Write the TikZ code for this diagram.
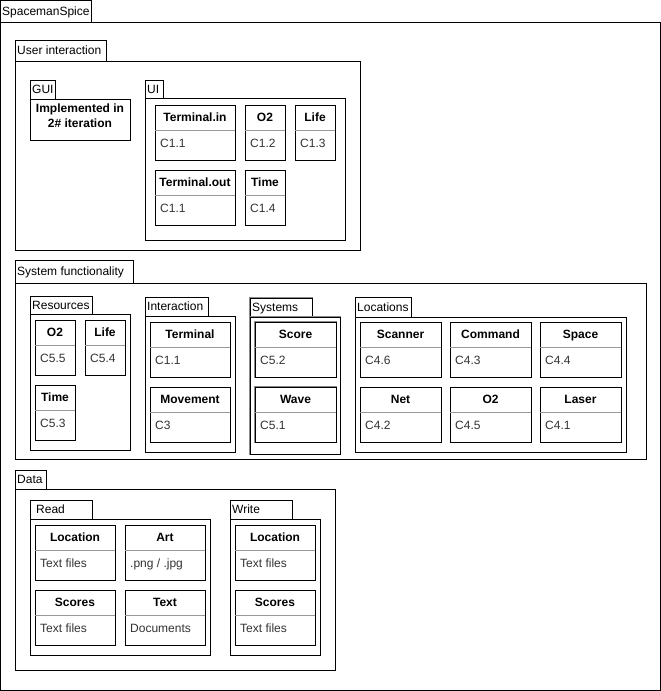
\documentclass[tikz,border=0pt]{standalone}
\usepackage{fontspec}
\setmainfont{Liberation Sans}
\definecolor{divc}{HTML}{999999}
\definecolor{itemc}{HTML}{333333}
\definecolor{shadc}{HTML}{8A8A8A}
\tikzset{
  every node/.style={font=\fontsize{12}{14.5}\selectfont, inner sep=0pt},
  frame/.style={draw=black, line width=1pt, fill=white},
  sysframe/.style={frame, preaction={draw=shadc, line width=2.4pt}},
  divline/.style={draw=divc, line width=1pt},
  tablbl/.style={anchor=base west, text=black},
  ctitle/.style={anchor=base, font=\fontsize{12}{14.5}\selectfont\bfseries},
  citem/.style={anchor=base west, text=itemc},
}
% [style]{name}{x}{y}{tab w}{tab h}{body w}{bottom y}{label}
\newcommand\pkg[9][frame]{%
  \draw[#1] (#3,#4) rectangle ++(#5,#6);
  \draw[#1] (#3,{#4+#6}) rectangle ({#3+#7},#8);
  \node[tablbl] (#2) at ({#3+2},{#4+#6/2+4.3}) {#9};
}
% [style]{name}{x}{y}{w}{title}
\newcommand\cls[6][frame]{%
  \draw[#1] (#3,#4) rectangle ++(#5,55);
  \draw[divline] (#3,{#4+25}) -- ++(#5,0);
  \node[ctitle] (#2t) at ({#3+#5/2},{#4+16.3}) {#6};
}
\newcommand\itm[4]{% name x y text
  \node[citem] (#1) at ({#2+5},{#3+42.5}) {#4};
}
\begin{document}
\begin{tikzpicture}[x=1pt,y=-1pt]
\useasboundingbox (0,0) rectangle (661,691);

\pkg{sp}{0}{0}{91}{22}{660}{690}{SpacemanSpice}

% User interaction
\pkg{uint}{15}{40}{91}{21}{345}{250}{User interaction}
\pkg{gui}{30}{80}{25}{19}{100}{140}{GUI}
\node[ctitle, anchor=center, align=center] (guitxt) at (80,115.5) {Implemented in\\2\# iteration};
\pkg{uip}{145}{80}{18}{18}{200}{240}{UI}
\cls{tin}{155}{105}{80}{Terminal.in}\itm{tini}{155}{105}{C1.1}
\cls{oa}{245}{105}{40}{O2}\itm{oai}{245}{105}{C1.2}
\cls{la}{295}{105}{40}{Life}\itm{lai}{295}{105}{C1.3}
\cls{tout}{155}{170}{80}{Terminal.out}\itm{touti}{155}{170}{C1.1}
\cls{ta}{245}{170}{40}{Time}\itm{tai}{245}{170}{C1.4}

% System functionality
\pkg{sf}{15}{260}{118}{23}{631}{459}{System functionality}
\pkg{res}{30}{296}{62}{18}{100}{450}{Resources}
\cls{ob}{35}{320}{40}{O2}\itm{obi}{35}{320}{C5.5}
\cls{lb}{85}{320}{40}{Life}\itm{lbi}{85}{320}{C5.4}
\cls{tb}{35}{385}{40}{Time}\itm{tbi}{35}{385}{C5.3}

\pkg{int}{145}{297}{63}{19}{90}{452}{Interaction}
\cls{term}{150}{322}{80}{Terminal}\itm{termi}{150}{322}{C1.1}
\cls{move}{150}{387}{80}{Movement}\itm{movei}{150}{387}{C3}

\pkg[sysframe]{sys}{250}{298}{62}{19}{90}{454}{Systems}
\cls[sysframe]{score}{255}{322}{81}{Score}\itm{scorei}{255}{322}{C5.2}
\cls[sysframe]{wave}{255}{387}{81}{Wave}\itm{wavei}{255}{387}{C5.1}

\pkg{loc}{355}{297}{56}{20}{271}{452}{Locations}
\cls{scan}{360}{322}{81}{Scanner}\itm{scani}{360}{322}{C4.6}
\cls{cmd}{450}{322}{81}{Command}\itm{cmdi}{450}{322}{C4.3}
\cls{spc}{540}{322}{81}{Space}\itm{spci}{540}{322}{C4.4}
\cls{net}{360}{387}{81}{Net}\itm{neti}{360}{387}{C4.2}
\cls{oc}{450}{387}{81}{O2}\itm{oci}{450}{387}{C4.5}
\cls{las}{540}{387}{81}{Laser}\itm{lasi}{540}{387}{C4.1}

% Data
\pkg{dat}{15}{470}{31}{19}{320}{670}{Data}
\pkg{rd}{30}{500}{62}{19}{180}{655}{\hspace{4pt}Read}
\cls{loca}{35}{525}{80}{Location}\itm{locai}{35}{525}{Text files}
\cls{art}{125}{525}{80}{Art}\itm{arti}{125}{525}{.png / .jpg}
\cls{sca}{35}{590}{80}{Scores}\itm{scai}{35}{590}{Text files}
\cls{txt}{125}{590}{80}{Text}\itm{txti}{125}{590}{Documents}
\pkg{wr}{230}{500}{62}{19}{90}{655}{Write}
\cls{locb}{235}{525}{80}{Location}\itm{locbi}{235}{525}{Text files}
\cls{scb}{235}{590}{80}{Scores}\itm{scbi}{235}{590}{Text files}
\end{tikzpicture}
\end{document}
